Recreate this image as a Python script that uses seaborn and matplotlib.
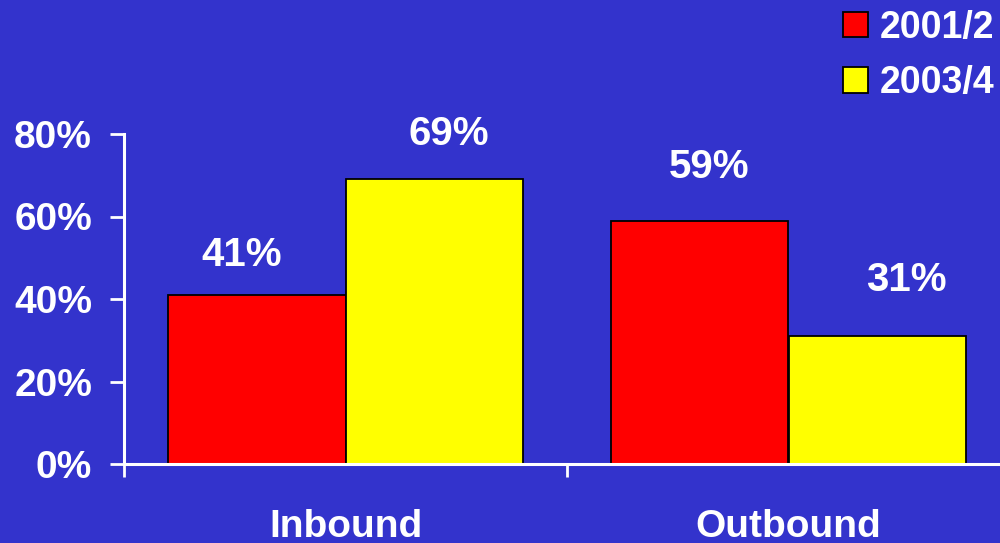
import matplotlib
matplotlib.use("Agg")
import matplotlib.pyplot as plt
import seaborn as sns
import pandas as pd
from matplotlib.patches import Patch

categories = ["Inbound", "Outbound"]
series_names = ["2001/2", "2003/4"]
values_2001 = [41, 59]
values_2003 = [69, 31]
y_ticks = [0, 20, 40, 60, 80]
y_tick_labels = ["0%", "20%", "40%", "60%", "80%"]

BG = "#3333CC"
colors = {"2001/2": "#FF0000", "2003/4": "#FFFF00"}

df = pd.DataFrame({
    "category": categories * 2,
    "period": [series_names[0]] * len(categories) + [series_names[1]] * len(categories),
    "value": values_2001 + values_2003,
})

sns.set_style("white")
plt.rcParams["font.family"] = ["Liberation Sans", "DejaVu Sans"]
plt.rcParams["font.weight"] = "bold"

fig = plt.figure(figsize=(10, 5.43), dpi=100, facecolor=BG)
ax = fig.add_axes([0.124, 79 / 543, 0.886, 330 / 543])
ax.set_facecolor(BG)

sns.barplot(data=df, x="category", y="value", hue="period", palette=colors,
            order=categories, hue_order=series_names, width=0.8,
            edgecolor="black", linewidth=1.3, saturation=1, ax=ax, legend=False)

ax.set_ylim(0, 80)
ax.set_xlim(-0.5, 1.5)
ax.set_yticks(y_ticks)
ax.set_yticklabels(y_tick_labels)
ax.set_xticks([-0.5, 0.5])
ax.set_xticklabels(["", ""])
ax.set_xlabel("")
ax.set_ylabel("")

# category labels centred under each group
for i, c in enumerate(categories):
    ax.annotate(c, xy=(i, 0), xycoords=("data", "axes fraction"),
                xytext=(0, -45), textcoords="offset pixels",
                ha="center", va="top", color="white", fontsize=28, fontweight="bold")

for s in ["top", "right"]:
    ax.spines[s].set_visible(False)
for s in ["left", "bottom"]:
    ax.spines[s].set_color("white")
    ax.spines[s].set_linewidth(2.2)

ax.tick_params(axis="y", left=True, colors="white", direction="out", length=10, width=2,
               pad=13, labelsize=28)
ax.tick_params(axis="x", bottom=True, colors="white", direction="out", length=9.5, width=2)
for lab in ax.get_yticklabels():
    lab.set_fontweight("bold")

# value labels
label_offsets = {(0, 0): (-15, 21), (0, 1): (15, 26), (1, 0): (9, 35), (1, 1): (29, 37)}
containers = ax.containers
for h, cont in enumerate(containers):
    for i, bar in enumerate(cont):
        val = bar.get_height()
        dx, dy = label_offsets[(i, h)]
        ax.annotate(f"{val:.0f}%", xy=(bar.get_x() + bar.get_width() / 2, val),
                    xytext=(dx, dy), textcoords="offset pixels",
                    ha="center", va="bottom", color="white", fontsize=29,
                    fontweight="bold")

handles = [Patch(facecolor=colors[n], edgecolor="black", linewidth=1.3) for n in series_names]
leg = fig.legend(handles, series_names, loc="upper left", bbox_to_anchor=(0.828, 1.01),
                 frameon=False, fontsize=27, handlelength=0.67, handleheight=0.67,
                 handletextpad=0.3, labelspacing=0.52, borderaxespad=0)
for t in leg.get_texts():
    t.set_color("white")
    t.set_fontweight("bold")

fig.savefig("out.png", dpi=100, facecolor=BG)
